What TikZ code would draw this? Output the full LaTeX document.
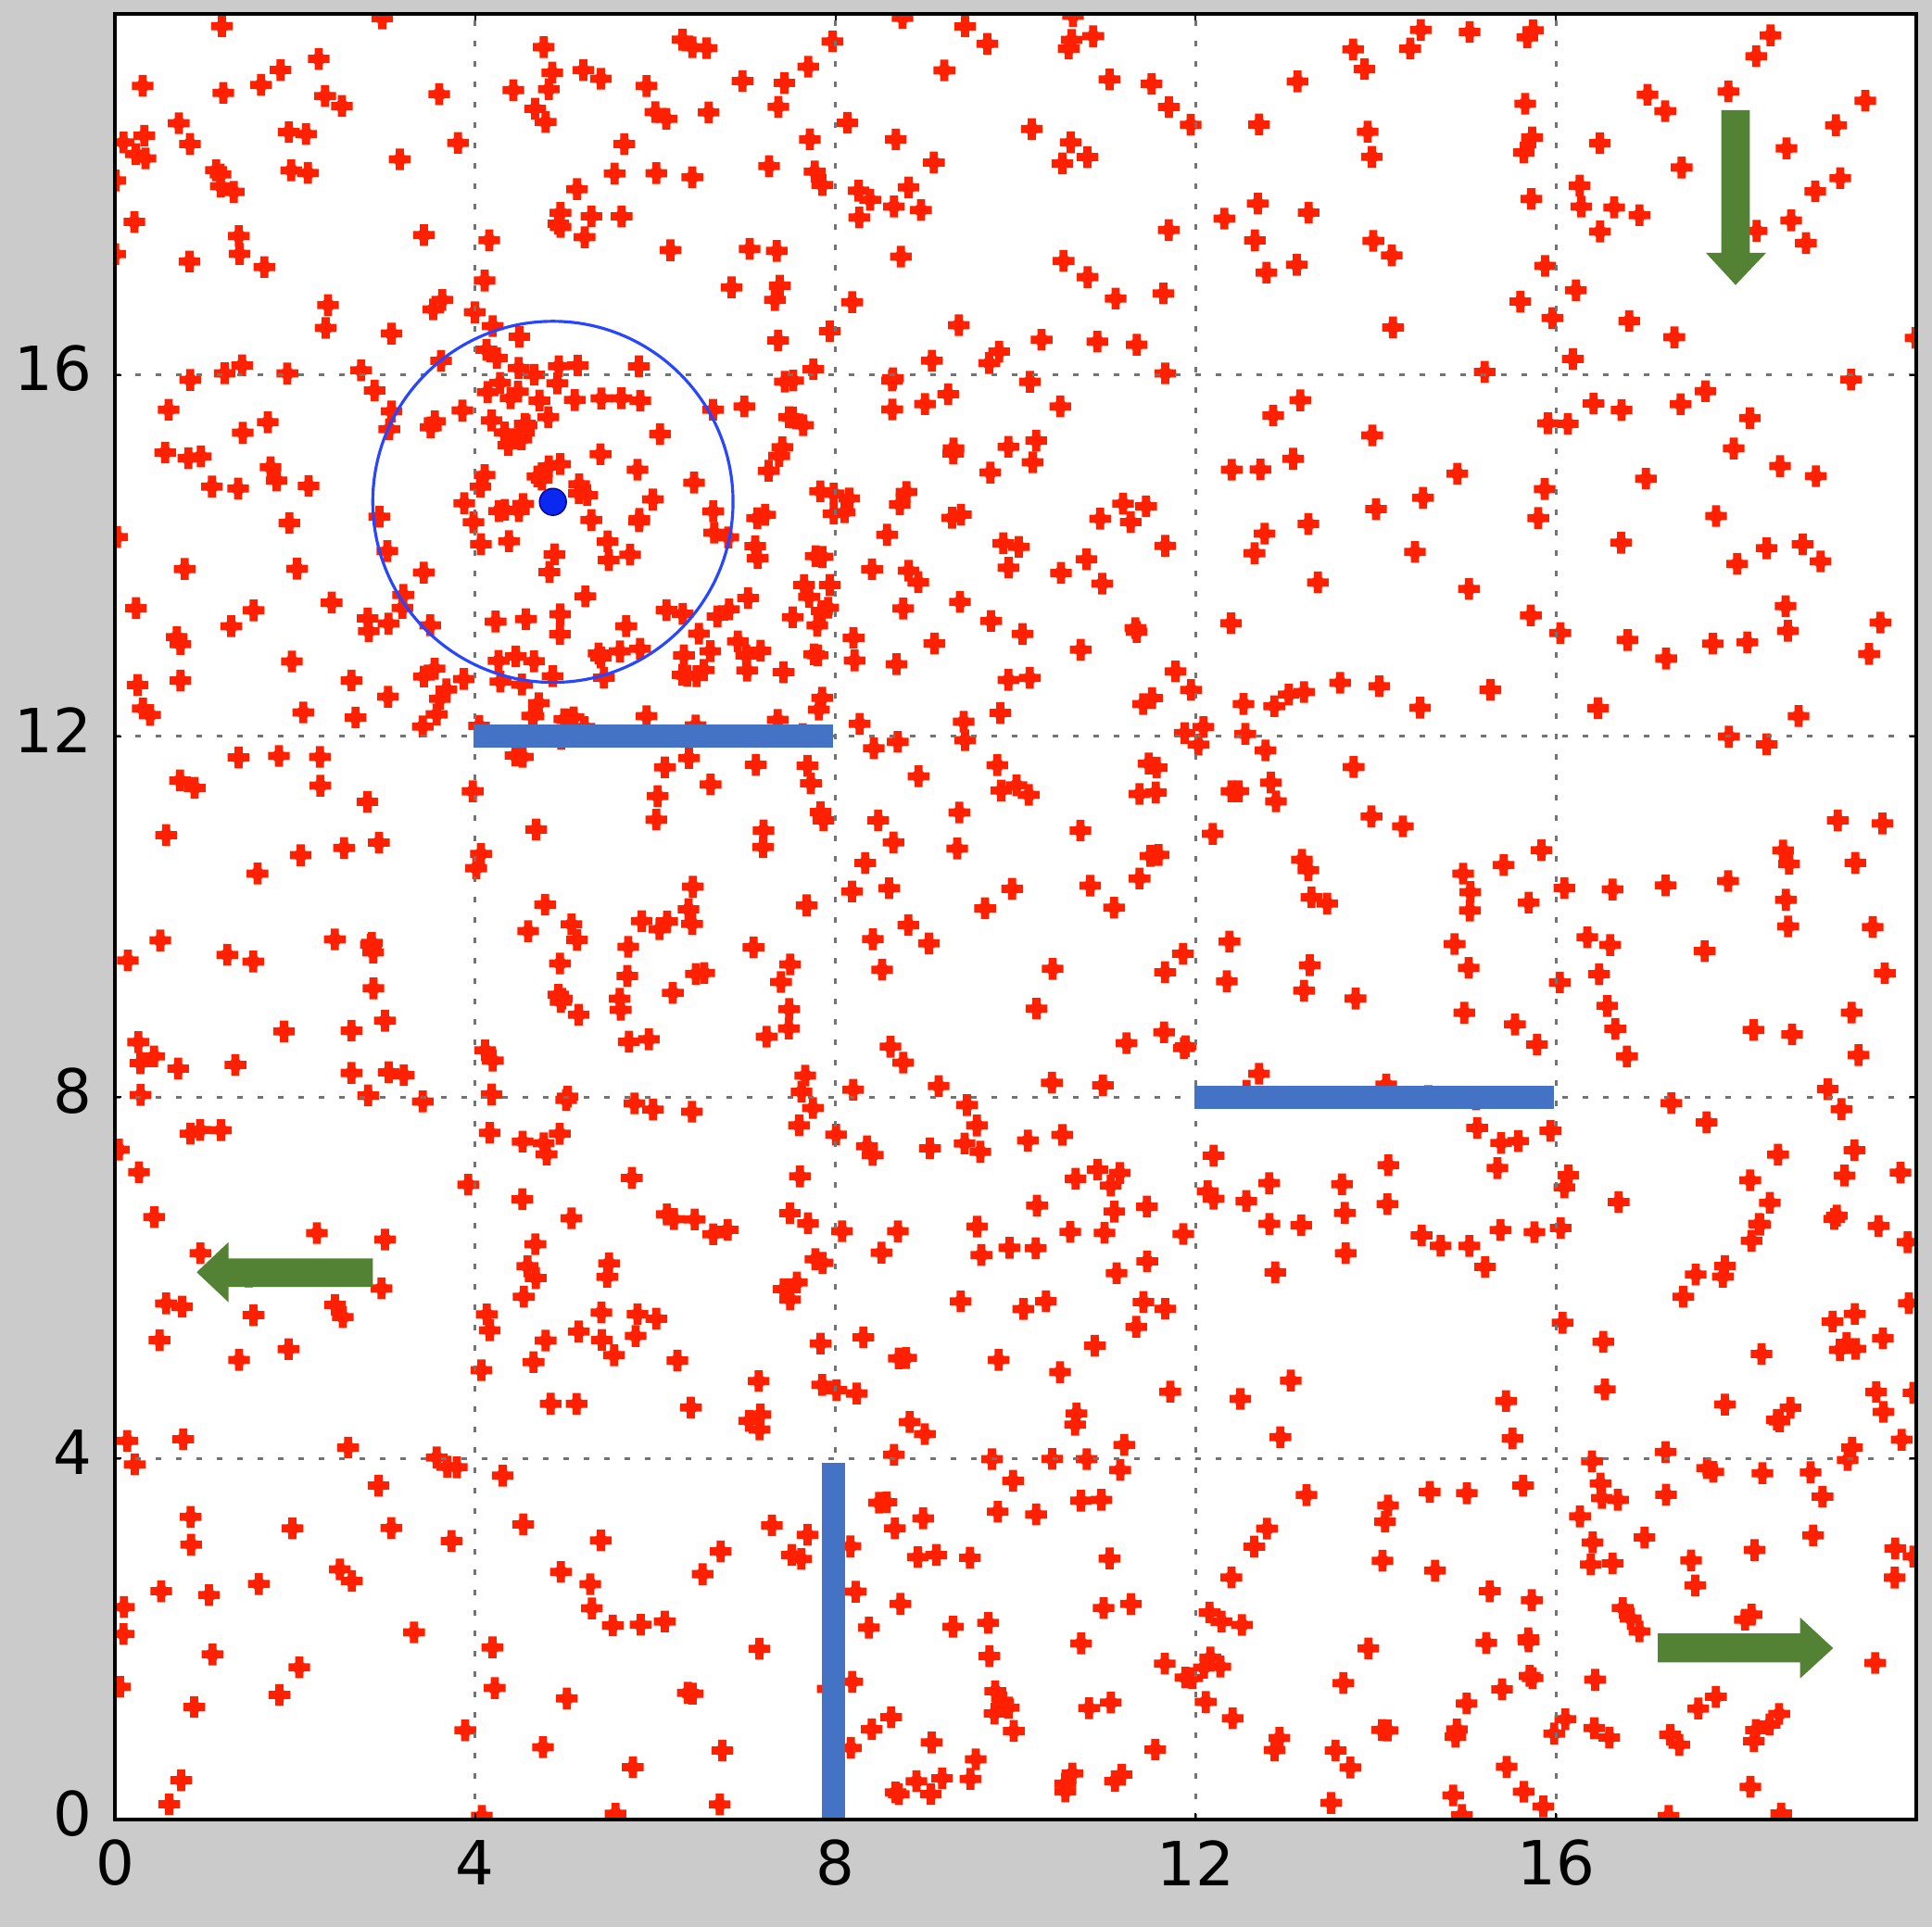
\documentclass[tikz,border=0pt]{standalone}
\usepackage{fontspec}
\setmainfont{DejaVu Sans}
\definecolor{bggrey}{RGB}{203,203,203}
\definecolor{ptred}{RGB}{255,32,0}
\definecolor{gridgrey}{RGB}{115,115,115}
\definecolor{circblue}{RGB}{40,70,255}
\definecolor{dotblue}{RGB}{10,40,240}
\definecolor{barblue}{RGB}{68,114,196}
\definecolor{arrowgreen}{RGB}{84,130,53}
\tikzset{
  gridline/.style={gridgrey, line width=0.75pt, dash pattern=on 0.06cm off 0.16cm},
  frame/.style={black, line width=1.15pt},
  tickmark/.style={black, line width=0.6pt},
  ticklabel/.style={font=\fontsize{18.7}{20}\selectfont, inner sep=0pt},
  bar/.style={fill=barblue},
  bigarrow/.style={fill=arrowgreen},
}
\begin{document}
\begin{tikzpicture}[x=0.972cm,y=0.9745cm]
\useasboundingbox (-1.2757,-1.190) rectangle (20.175,20.154);
\fill[bggrey] (-1.2757,-1.190) rectangle (20.175,20.154);
\fill[white] (0,0) rectangle (20,20);
% scatter points
\pgfmathsetseed{4242}
\begin{scope}
\clip (0,0) rectangle (20,20);
\foreach \cx/\cy/\n in {0/16/45, 4/16/55, 8/16/40, 12/16/28, 16/16/25,
                        0/12/55, 4/12/125, 8/12/55, 12/12/30, 16/12/28,
                        0/8/35, 4/8/55, 8/8/45, 12/8/35, 16/8/28,
                        0/4/25, 4/4/55, 8/4/50, 12/4/30, 16/4/45,
                        0/0/25, 4/0/28, 8/0/55, 12/0/45, 16/0/45}{
  \foreach \k in {1,...,\n}{
    \pgfmathsetmacro\px{\cx+4*rnd}
    \pgfmathsetmacro\py{\cy+4*rnd}
    \fill[ptred] (\px,\py) +(-0.12,-0.045) rectangle +(0.12,0.045)
                 +(-0.045,-0.12) rectangle +(0.045,0.12);
    \fill[ptred] (\px,\py) +(-0.1,0) -- +(0,0.1) -- +(0.1,0) -- +(0,-0.1) -- cycle;
  }
}
\end{scope}
% grid
\foreach \v in {4,8,12,16}{
  \draw[gridline] (\v,0) -- (\v,20);
  \draw[gridline] (0,\v) -- (20,\v);
}
% ticks
\foreach \v in {4,8,12,16}{
  \draw[tickmark] (\v,0) -- (\v,0.07);
  \draw[tickmark] (\v,20) -- (\v,19.93);
  \draw[tickmark] (0,\v) -- (0.07,\v);
  \draw[tickmark] (20,\v) -- (19.93,\v);
}
\draw[frame] (0,0) rectangle (20,20);
% tick labels
\foreach \v in {0,4,8,12,16}{
  \node[ticklabel] (xl\v) at (\v,-0.48) {\v};
  \node[ticklabel, anchor=east] (yl\v) at (-0.245,\v+0.07) {\v};
}
% circle and centre
\draw[circblue, line width=0.9pt] (4.863,14.595) circle[radius=2];
\node[circle, fill=dotblue, draw=blue!60!black, line width=0.4pt, inner sep=0pt, minimum size=0.29cm] (centre) at (4.863,14.595) {};
% blue bars
\fill[bar] (3.978,11.876) rectangle (7.973,12.129);
\fill[bar] (11.985,7.874) rectangle (15.977,8.127);
\fill[bar] (7.847,0.02) rectangle (8.104,3.947);
% green arrows
\fill[bigarrow] (17.836,18.933) -- (18.151,18.933) -- (18.151,17.353) -- (18.333,17.353)
  -- (17.994,16.997) -- (17.665,17.353) -- (17.836,17.353) -- cycle;
\fill[bigarrow] (2.863,6.215) -- (1.262,6.215) -- (1.262,6.396) -- (0.908,6.062)
  -- (1.262,5.729) -- (1.262,5.900) -- (2.863,5.900) -- cycle;
\fill[bigarrow] (17.130,2.060) -- (18.711,2.060) -- (18.711,2.237) -- (19.077,1.898)
  -- (18.711,1.563) -- (18.711,1.741) -- (17.130,1.741) -- cycle;
\end{tikzpicture}
\end{document}
